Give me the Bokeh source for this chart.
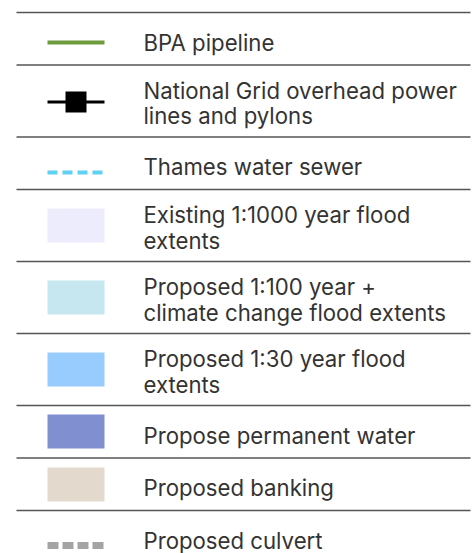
from bokeh.plotting import figure
from bokeh.models import Range1d
from bokeh.core.properties import value
from bokeh.embed import file_html
from bokeh.resources import INLINE

# ---- legend content ----
labels = [
    "BPA pipeline",
    "National Grid overhead power\nlines and pylons",
    "Thames water sewer",
    "Existing 1:1000 year flood\nextents",
    "Proposed 1:100 year +\nclimate change flood extents",
    "Proposed 1:30 year flood\nextents",
    "Propose permanent water",
    "Proposed banking",
    "Proposed culvert",
]
kinds = ["line", "pylon", "dash", "box", "box", "box", "box", "box", "culvert"]
colors = ["#6f9b3f", "#000000", "#5fd2f2", "#edecfc", "#c6e7ef",
          "#99ccfe", "#7f8fcf", "#e4d9cd", "#a4a4a4"]

# ---- layout (pixel-like units) ----
W, H = 475, 553
TOP = 12
ROW_SINGLE, ROW_DOUBLE = 52.5, 72
SYM_DY = [30, 37, 35.5, 36, 36, 36, 26, 26.5, 35]
SYM_L, SYM_R = 47, 104
TEXT_X = 143
SEP_L, SEP_R = 16, 470

p = figure(width=W, height=H, output_backend="svg", toolbar_location=None,
           x_range=Range1d(0, W), y_range=Range1d(H, 0),
           min_border=0, outline_line_color=None)
p.axis.visible = False
p.grid.visible = False
p.background_fill_color = "white"
p.border_fill_color = "white"

row_tops = []
y = TOP
for lab in labels:
    row_tops.append(y)
    y += ROW_DOUBLE if "\n" in lab else ROW_SINGLE

# separators
p.segment(x0=[SEP_L] * len(row_tops), x1=[SEP_R] * len(row_tops),
          y0=row_tops, y1=row_tops, line_color="#555555", line_width=1.4)

for lab, kind, col, top, dy in zip(labels, kinds, colors, row_tops, SYM_DY):
    cy = top + dy
    if kind == "line":
        p.line([SYM_L, SYM_R], [cy, cy], line_color=col, line_width=4)
    elif kind == "pylon":
        p.line([SYM_L, SYM_R], [cy, cy], line_color=col, line_width=3)
        p.rect(x=[(SYM_L + SYM_R) / 2], y=[cy], width=21, height=21,
               fill_color=col, line_color=None)
    elif kind == "dash":
        p.line([SYM_L, SYM_R], [cy, cy], line_color=col, line_width=4,
               line_dash="10 5")
    elif kind == "culvert":
        p.line([SYM_L, SYM_R], [cy, cy], line_color=col, line_width=7,
               line_dash="11 4")
    else:
        p.quad(left=[SYM_L], right=[SYM_R], top=[cy - 17], bottom=[cy + 17],
               fill_color=col, line_color=None)

    parts = lab.split("\n")
    if len(parts) == 1:
        ys = [top + 29.5]
    else:
        ys = [top + 25, top + 50.5]
    p.text(x=[TEXT_X] * len(parts), y=ys, text=parts,
           text_font=value("Inter"), text_font_size="22.2px",
           text_color="#333333", text_baseline="alphabetic",
           text_align="left")

open("out.html", "w").write(file_html(p, INLINE))
